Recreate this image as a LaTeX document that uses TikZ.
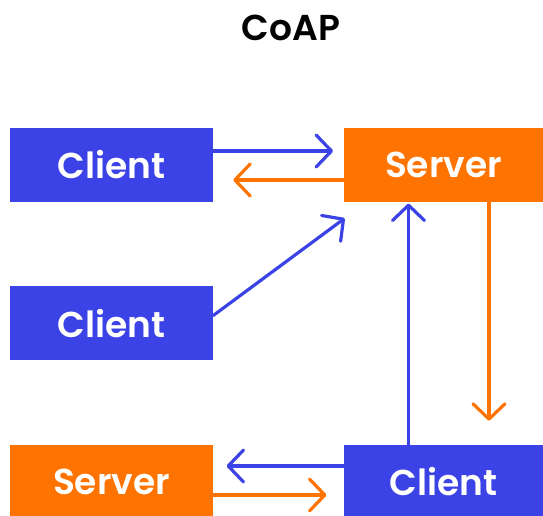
\documentclass[tikz,border=0pt]{standalone}
\usepackage{fontspec}
\setmainfont{Poppins}[BoldFont={Poppins SemiBold}]
\usetikzlibrary{arrows.meta,calc}

\definecolor{coapblue}{RGB}{59,66,230}
\definecolor{coaporange}{RGB}{255,115,0}

\tikzset{
  box/.style={rectangle, inner sep=0pt, text=white, font=\fontsize{27}{32}\selectfont\bfseries},
  leftbox/.style={box, minimum width=152.25pt, minimum height=55.5pt},
  rightbox/.style={box, minimum width=149.25pt, minimum height=55.5pt},
  msg/.style={line width=2.4pt, line cap=round, line join=round,
    -{Straight Barb[length=11.5pt, width=24pt, line cap=round, line join=round]}},
}

\begin{document}
\begin{tikzpicture}[x=0.75pt,y=0.75pt,yscale=-1,xscale=1]
    \useasboundingbox (0,0) rectangle (543,516);

    % Title
    \node (title) at (291,28) {\fontsize{27}{32}\selectfont\bfseries CoAP};

    % Boxes
    \node[leftbox, fill=coapblue] (c1) at (111.5,165) {Client};
    \node[rightbox, fill=coaporange] (s1) at (443.5,165) {Server};
    \node[leftbox, fill=coapblue] (c2) at (111.5,323.5) {Client};
    \node[leftbox, fill=coaporange] (s2) at (111.5,482) {Server};
    \node[rightbox, fill=coapblue] (c3) at (443.5,482) {Client};

    % Top pair
    \draw[msg, coapblue, shorten >=8] ($(c1.east)+(0,-14)$) -- ($(s1.west)+(0,-14)$);
    \draw[msg, coaporange, shorten >=15] ($(s1.west)+(0,15)$) -- ($(c1.east)+(0,15)$);

    % Diagonal
    \draw[msg, coapblue] ($(c2.east)+(0,-8)$) -- ($(s1.south west)+(1,16)$);

    % Verticals
    \draw[msg, coapblue, shorten >=1] ($(c3.north)+(-35,0)$) -- ($(s1.south)+(-35,0)$);
    \draw[msg, coaporange, shorten >=18] ($(s1.south)+(45.5,0)$) -- ($(c3.north)+(45.5,0)$);

    % Bottom pair
    \draw[msg, coapblue, shorten >=10] ($(c3.west)+(0,-16)$) -- ($(s2.east)+(0,-16)$);
    \draw[msg, coaporange, shorten >=13] ($(s2.east)+(0,13)$) -- ($(c3.west)+(0,13)$);
\end{tikzpicture}
\end{document}
